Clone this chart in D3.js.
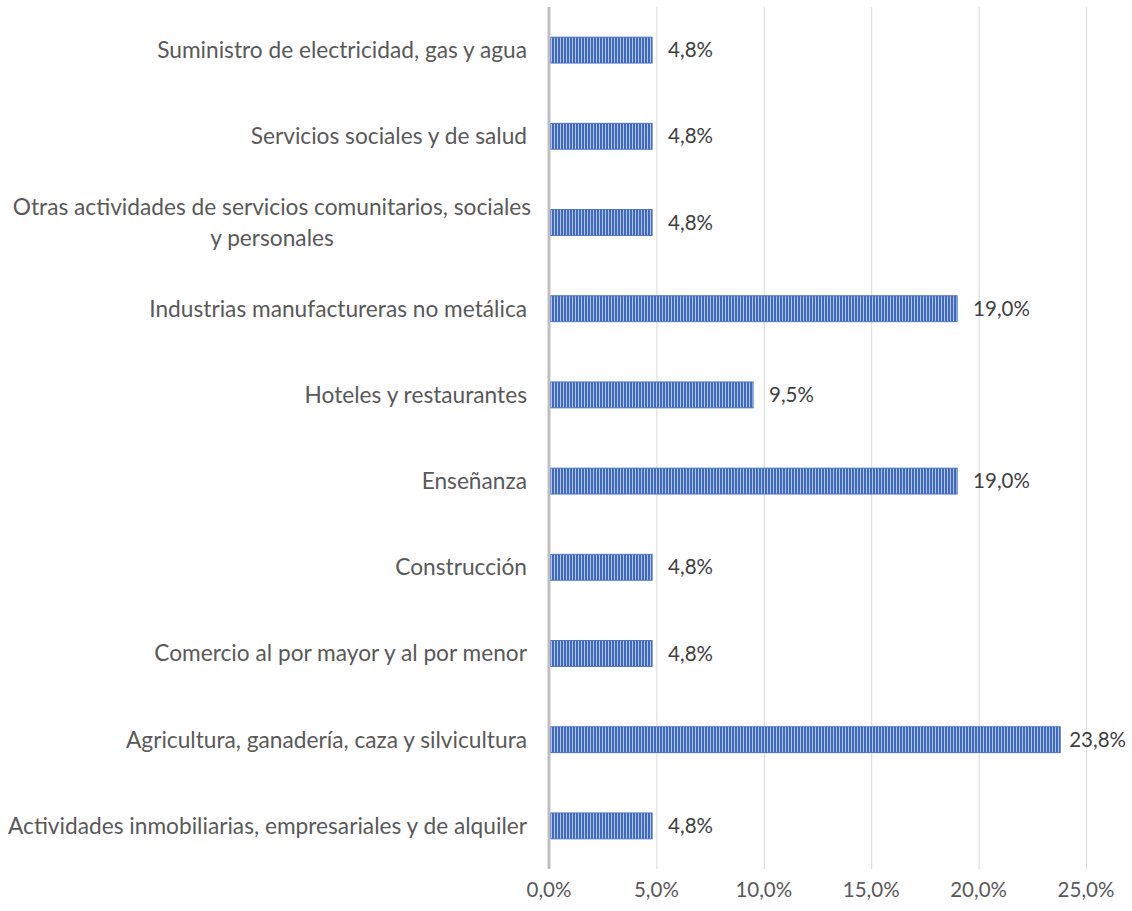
<!DOCTYPE html>
<html>
<head>
<meta charset="utf-8">
<script src="https://cdn.jsdelivr.net/npm/d3@7"></script>
<style>
  body { margin: 0; background: #fff; }
  text { font-family: Lato, "Open Sans", sans-serif; }
</style>
</head>
<body>
<script>
// categories top to bottom
let categories = [
  ["Suministro de electricidad, gas y agua"],
  ["Servicios sociales y de salud"],
  ["Otras actividades de servicios comunitarios, sociales", "y personales"],
  ["Industrias manufactureras no metálica"],
  ["Hoteles y restaurantes"],
  ["Enseñanza"],
  ["Construcción"],
  ["Comercio al por mayor y al por menor"],
  ["Agricultura, ganadería, caza y silvicultura"],
  ["Actividades inmobiliarias, empresariales y de alquiler"]
];
let values = [4.8, 4.8, 4.8, 19.0, 9.5, 19.0, 4.8, 4.8, 23.8, 4.8];
let ticks = [0, 5, 10, 15, 20, 25];

let svg = d3.select('body')
  .append('svg')
  .attr("width", 1132)
  .attr("height", 911);

let plotLeft = 549, plotRight = 1086, plotTop = 7, plotBottom = 869;
let fmt = v => v.toFixed(1).replace('.', ',') + '%';

let x = d3.scaleLinear().domain([0, 25]).range([plotLeft, plotRight]);
let y = d3.scaleBand()
  .domain(d3.range(categories.length))
  .range([plotTop, plotBottom])
  .paddingInner(0.7)
  .paddingOuter(0.35);

// striped fill
let defs = svg.append('defs');
let pat = defs.append('pattern')
  .attr('id', 'stripes')
  .attr('patternUnits', 'userSpaceOnUse')
  .attr('width', 3)
  .attr('height', 10);
pat.append('rect').attr('width', 3).attr('height', 10).attr('fill', '#b4c6e7');
pat.append('rect').attr('width', 2).attr('height', 10).attr('fill', '#3f69be');

// gridlines
svg.append('g')
  .selectAll('line')
  .data(ticks.slice(1))
  .join('line')
  .attr('x1', d => x(d) + 0.5)
  .attr('x2', d => x(d) + 0.5)
  .attr('y1', plotTop)
  .attr('y2', plotBottom)
  .attr('stroke', '#d9d9d9')
  .attr('stroke-width', 1);

// bars
svg.append('g')
  .selectAll('rect')
  .data(values)
  .join('rect')
  .attr('x', x(0) + 1)
  .attr('y', (d, i) => y(i))
  .attr('width', d => x(d) - x(0) - 1)
  .attr('height', y.bandwidth())
  .attr('fill', 'url(#stripes)')
  .attr('stroke', '#4a72c0')
  .attr('stroke-width', 1);

// value labels (pushed back in if they run off the right edge)
svg.append('g')
  .selectAll('text')
  .data(values)
  .join('text')
  .attr('y', (d, i) => y(i) + y.bandwidth() / 2)
  .attr('dy', '0.35em')
  .attr('font-size', 20.5)
  .attr('fill', '#404040')
  .text(d => fmt(d))
  .attr('x', function(d) {
    let w = this.getComputedTextLength();
    return Math.min(x(d) + 16, 1126 - w);
  });

// category labels
let cat = svg.append('g')
  .selectAll('text')
  .data(categories)
  .join('text')
  .attr('y', (d, i) => y(i) + y.bandwidth() / 2)
  .attr('font-size', 22.7)
  .attr('fill', '#595959')
  .attr('text-anchor', d => d.length > 1 ? 'middle' : 'end');

cat.each(function(d) {
  let t = d3.select(this);
  let n = d.length;
  let cx = n > 1 ? 272 : 527;
  d.forEach((line, j) => {
    t.append('tspan')
      .attr('x', cx)
      .attr('dy', j === 0 ? (0.35 - (n - 1) * 0.7) + 'em' : '1.4em')
      .text(line);
  });
});

// axis line
svg.append('line')
  .attr('x1', plotLeft)
  .attr('x2', plotLeft)
  .attr('y1', plotTop)
  .attr('y2', plotBottom)
  .attr('stroke', '#bfbfbf')
  .attr('stroke-width', 3);

// tick labels
svg.append('g')
  .selectAll('text')
  .data(ticks)
  .join('text')
  .attr('x', d => x(d))
  .attr('y', 897)
  .attr('text-anchor', 'middle')
  .attr('font-size', 20.5)
  .attr('fill', '#595959')
  .text(d => fmt(d));
</script>
</body>
</html>
